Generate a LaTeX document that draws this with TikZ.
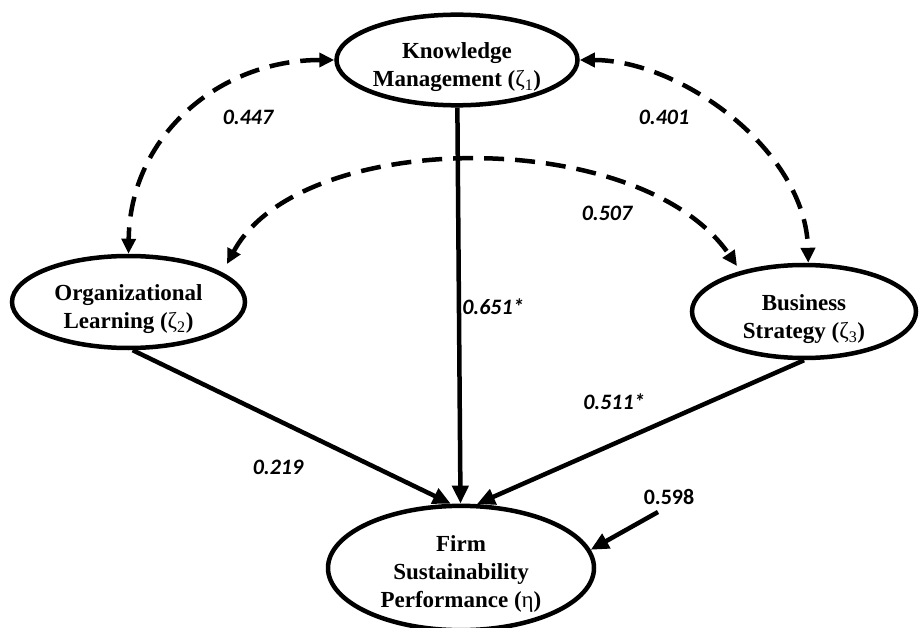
\documentclass[tikz,border=0pt]{standalone}
\usepackage{fontspec}
\setmainfont{Liberation Serif}
\newfontfamily\labfont{Carlito}
\usetikzlibrary{shapes.geometric,arrows.meta}
\newcommand{\dn}{\rule{0pt}{31pt}}
\begin{document}
\begin{tikzpicture}[x=1pt,y=-1pt,
  lat/.style={ellipse,draw,line width=4.5pt,inner sep=0pt,align=center,
    font=\fontsize{23}{28}\selectfont\bfseries},
  pathar/.style={line width=4.5pt,-{Triangle[length=18pt,width=16pt]}},
  cov/.style={line width=4.5pt,dash pattern=on 20pt off 11pt,
    {Triangle[length=15pt,width=14pt]}-{Triangle[length=15pt,width=14pt]}},
  coef/.style={font=\labfont\fontsize{22}{24}\selectfont\bfseries\itshape},
  coefup/.style={font=\labfont\fontsize{22}{24}\selectfont\bfseries},
]
\useasboundingbox (0,0) rectangle (923,628);
\fill[white] (0,0) rectangle (923,628);

\node[lat,minimum width=241pt,minimum height=90pt] (KM) at (457,60)
  {\dn Knowledge\\Management ({\mdseries ζ\textsubscript{1}})};
\node[lat,minimum width=233pt,minimum height=92pt] (OL) at (128.5,302)
  {\dn Organizational\\Learning ({\mdseries ζ\textsubscript{2}})};
\node[lat,minimum width=224pt,minimum height=93pt] (BS) at (804,311.5)
  {\dn Business\\Strategy ({\mdseries ζ\textsubscript{3}})};
\node[lat,minimum width=266pt,minimum height=108pt] (FSP) at (461,568)
  {\rule{0pt}{27pt}Firm\\Sustainability\\Performance ({\mdseries η})};

% structural paths
\draw[pathar] (KM) -- (FSP);
\draw[pathar] (OL.-85) -- (FSP.99);
\draw[pathar] (BS.south) -- (FSP.76);
\coordinate (res) at (658,512);
\draw[pathar] (res) -- (FSP.8);

% covariances
\draw[cov] (KM.west) .. controls (220,60) and (130,135) .. (OL.north);
\draw[cov] (KM.east) .. controls (680,60) and (806,150) .. (BS.85);
\coordinate (c507l) at (227,264);
\coordinate (c507r) at (737,266);
\draw[cov] (c507l) .. controls (300,128) and (640,125) .. (c507r);

% coefficients
\node[coef] (l447) at (248,117) {0.447};
\node[coef] (l401) at (664,117) {0.401};
\node[coef] (l507) at (607,213) {0.507};
\node[coef] (l651) at (493,307) {0.651*};
\node[coef] (l219) at (278,467) {0.219};
\node[coef] (l511) at (614,402) {0.511*};
\node[coefup] (l598) at (669,497) {0.598};
\end{tikzpicture}
\end{document}
